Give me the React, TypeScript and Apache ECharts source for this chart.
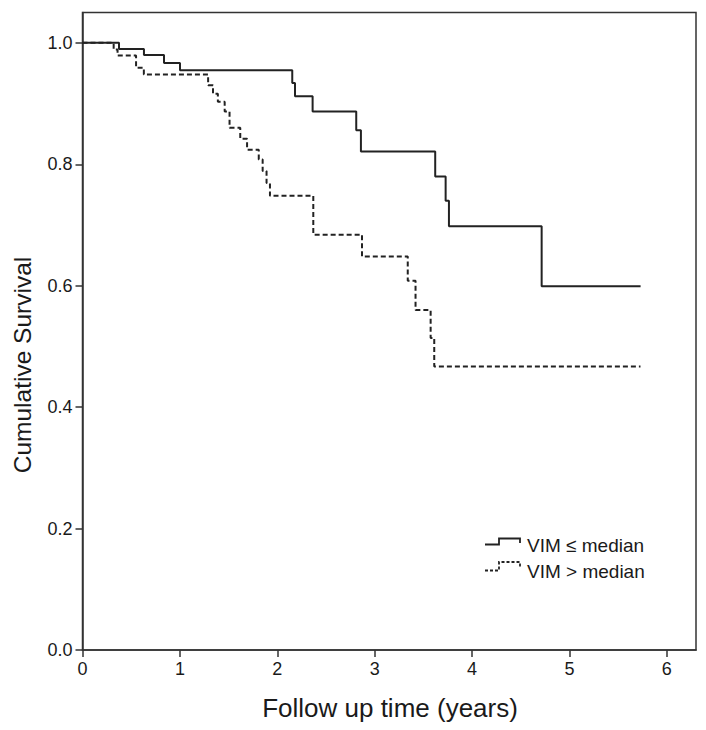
import React, { useEffect, useRef } from "react";
import * as echarts from "echarts";

const xTicks = [0, 1, 2, 3, 4, 5, 6];
const yTicks = [0, 0.2, 0.4, 0.6, 0.8, 1.0];

const seriesNames = ["VIM \u2264 median", "VIM > median"];
const xTitle = "Follow up time (years)";
const yTitle = "Cumulative Survival";

// VIM <= median (solid)
const lowTime = [0, 0.375, 0.631, 0.837, 1.001, 2.154, 2.182, 2.363, 2.811, 2.859, 3.622, 3.729, 3.763, 4.715, 5.731];
const lowSurv = [1.0, 0.99, 0.98, 0.967, 0.955, 0.934, 0.912, 0.887, 0.856, 0.821, 0.78, 0.74, 0.698, 0.599, 0.599];

// VIM > median (dashed)
const highTime = [0, 0.32, 0.36, 0.55, 0.63, 1.29, 1.34, 1.39, 1.46, 1.51, 1.62, 1.69, 1.81, 1.85, 1.89, 1.925, 2.37, 2.87, 3.34, 3.42, 3.575, 3.612, 5.73];
const highSurv = [1.0, 0.989, 0.979, 0.959, 0.948, 0.93, 0.916, 0.903, 0.887, 0.86, 0.842, 0.824, 0.808, 0.789, 0.769, 0.748, 0.684, 0.648, 0.608, 0.56, 0.514, 0.467, 0.467];

const FONT = '"Liberation Sans", Arial, sans-serif';
const INK = "#1a1a1a";

export default function App() {
  const ref = useRef<HTMLDivElement>(null);

  useEffect(() => {
    const chart = echarts.init(ref.current!, null, { renderer: "svg" });
    const pair = (t: number[], s: number[]) => t.map((v, i) => [v, s[i]]);

    chart.setOption({
      animation: false,
      backgroundColor: "#fff",
      grid: {
        left: 82.5,
        right: 10,
        top: 12.5,
        bottom: 80,
        show: true,
        borderColor: "#333",
        borderWidth: 1.5,
        backgroundColor: "transparent",
      },
      xAxis: {
        type: "value",
        min: 0,
        max: 6.3,
        interval: 1,
        axisLine: { show: true, lineStyle: { color: "#333", width: 1.5 } },
        axisTick: { show: true, length: 7, lineStyle: { color: "#333", width: 1.5 }, customValues: xTicks },
        axisLabel: {
          fontFamily: FONT,
          fontSize: 18,
          color: INK,
          margin: 10,
          customValues: xTicks,
          formatter: (v: number) => String(v),
        },
        splitLine: { show: false },
      },
      yAxis: {
        type: "value",
        min: 0,
        max: 1.05,
        interval: 0.2,
        axisLine: { show: true, lineStyle: { color: "#333", width: 1.5 } },
        axisTick: { show: true, length: 7, lineStyle: { color: "#333", width: 1.5 }, customValues: yTicks },
        axisLabel: {
          fontFamily: FONT,
          fontSize: 18,
          color: INK,
          margin: 10,
          customValues: yTicks,
          formatter: (v: number) => v.toFixed(1),
        },
        splitLine: { show: false },
      },
      series: [
        {
          name: seriesNames[0],
          type: "line",
          step: "end",
          showSymbol: false,
          data: pair(lowTime, lowSurv),
          lineStyle: { color: "#222", width: 2, type: "solid" },
          itemStyle: { color: "#222" },
        },
        {
          name: seriesNames[1],
          type: "line",
          step: "end",
          showSymbol: false,
          data: pair(highTime, highSurv),
          lineStyle: { color: "#222", width: 2, type: [5, 3] },
          itemStyle: { color: "#222" },
        },
      ],
      graphic: [
        {
          type: "text",
          x: 22,
          y: 365,
          rotation: Math.PI / 2,
          style: { text: yTitle, font: `24.5px ${FONT}`, fill: INK, align: "center", verticalAlign: "middle" },
        },
        {
          type: "text",
          x: 390,
          y: 708,
          style: { text: xTitle, font: `26px ${FONT}`, fill: INK, align: "center", verticalAlign: "middle" },
        },
        {
          type: "polyline",
          shape: { points: [[485, 544.5], [499, 544.5], [499, 538.5], [520, 538.5], [520, 543]] },
          style: { stroke: "#222", lineWidth: 1.8, fill: null },
        },
        {
          type: "text",
          x: 527,
          y: 545,
          style: { text: seriesNames[0], font: `19px ${FONT}`, fill: INK, verticalAlign: "middle" },
        },
        {
          type: "polyline",
          shape: { points: [[485, 570.5], [499, 570.5], [499, 562], [520, 562], [520, 567]] },
          style: { stroke: "#222", lineWidth: 1.8, fill: null, lineDash: [3, 2] },
        },
        {
          type: "text",
          x: 527,
          y: 571,
          style: { text: seriesNames[1], font: `19px ${FONT}`, fill: INK, verticalAlign: "middle" },
        },
      ],
    });

    return () => chart.dispose();
  }, []);

  return (
    <div
      ref={ref}
      style={{ position: "fixed", left: 0, top: 0, width: 706, height: 730, background: "#fff" }}
    />
  );
}
